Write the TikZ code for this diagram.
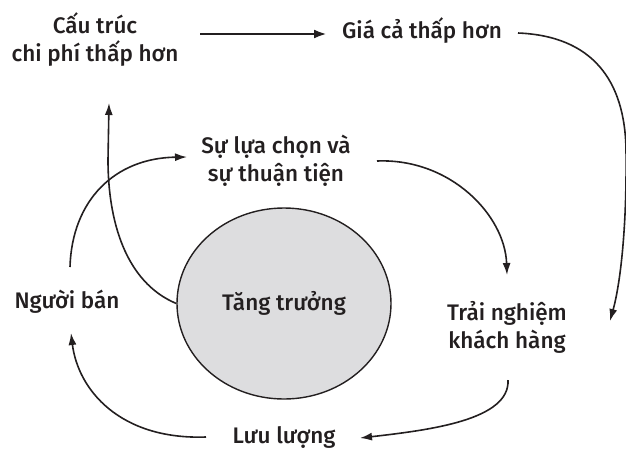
\documentclass[tikz,border=0pt]{standalone}
\usepackage{fontspec}
\setmainfont{Fira Sans Medium}
\usetikzlibrary{arrows.meta,calc,shapes.geometric}
\definecolor{ink}{RGB}{35,31,32}
\definecolor{blobfill}{RGB}{221,221,223}
\begin{document}
\begin{tikzpicture}[x=1pt,y=-1pt,
  lbl/.style={inner sep=0pt, align=center, text=ink, font=\fontsize{22.5}{28}\selectfont},
  conn/.style={draw=ink, line width=1.6pt, -{Latex[length=12pt,width=8pt]}},
  thickconn/.style={draw=ink, line width=2.7pt, -{Latex[length=13pt,width=9pt]}},
  blob/.style={ellipse, draw=ink, line width=1.4pt, fill=blobfill, minimum width=214pt, minimum height=191pt, inner sep=0pt, text=ink, font=\fontsize{22.5}{28}\selectfont}]
\useasboundingbox (0,0) rectangle (626,451);
% nodes
\node[lbl] (cau) at (95,40) {Cấu trúc\\chi phí thấp hơn};
\node[lbl] (gia) at (422,31) {Giá cả thấp hơn};
\node[lbl] (sulua) at (276,161) {Sự lựa chọn và\\sự thuận tiện};
\node[lbl] (trai) at (507,327) {Trải nghiệm\\khách hàng};
\node[lbl] (nguoi) at (67,302) {Người bán};
\node[lbl] (luu) at (284,437) {Lưu lượng};
\node[blob] (circ) at (284,303.5) {Tăng trưởng};
% connectors
\draw[thickconn] ($(cau)+(105,-6)$) -- ($(gia)+(-95,3)$);
\draw[conn] ($(gia)+(96,2)$) .. controls (592,36) and (625,80) .. (626,150)
   .. controls (627,230) and (620,285) .. ($(trai)+(103,-6)$);
\draw[conn] ($(sulua)+(101,0)$) .. controls (450,158) and (505,215) .. ($(trai)+(0,-52)$);
\draw[conn] ($(trai)+(1,53)$) .. controls (510,420) and (430,430) .. ($(luu)+(76,1)$);
\draw[conn] ($(luu)+(-78,0)$) .. controls (120,440) and (78,390) .. ($(nguoi)+(4,31)$);
\draw[conn] ($(nguoi)+(3,-35)$) .. controls (72,200) and (115,158) .. ($(sulua)+(-89,-4)$);
\draw[conn] (circ.west) .. controls (125,282) and (108,220) .. (108,160) -- ($(cau)+(14,63)$);
\end{tikzpicture}
\end{document}
